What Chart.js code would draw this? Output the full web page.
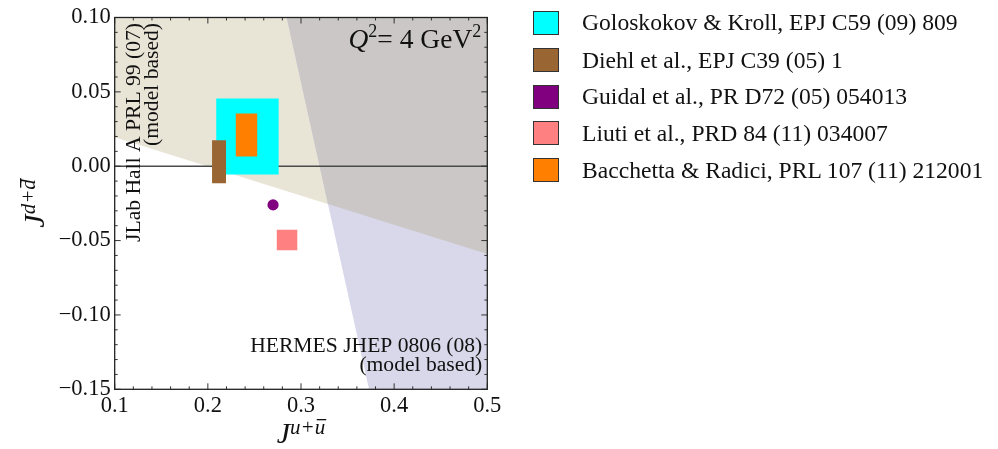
<!DOCTYPE html>
<html>
<head>
<meta charset="utf-8">
<script src="https://cdn.jsdelivr.net/npm/chart.js@4.4.0/dist/chart.umd.min.js"></script>
<style>
  body { margin: 0; background: #fff; }
  #wrap { position: relative; width: 998px; height: 449px; }
  #legend { position: absolute; left: 533px; top: 0; font-family: 'Liberation Serif', 'Times New Roman', serif; font-size: 23.6px; color: #111; }
  .row { position: absolute; left: 0; display: flex; align-items: center; white-space: nowrap; height: 24px; }
  .sw { width: 24px; height: 22px; border: 1px solid #333; margin-right: 23px; flex: none; }
</style>
</head>
<body>
<div id="wrap"><canvas id="c"></canvas><div id="legend"></div></div>
<script>
const xMin = 0.1, xMax = 0.5, yMin = -0.15, yMax = 0.10;

// model estimates of J^{u+ubar} / J^{d+dbar} (Guidal et al. is a single point)
const models = [
  'Goloskokov & Kroll, EPJ C59 (09) 809',
  'Diehl et al., EPJ C39 (05) 1',
  'Guidal et al., PR D72 (05) 054013',
  'Liuti et al., PRD 84 (11) 034007',
  'Bacchetta & Radici, PRL 107 (11) 212001'
];
const modelColors = ['#00ffff', '#996633', '#800080', '#ff8080', '#ff8000'];
const juLow  = [0.209, 0.2045, 0.270, 0.274, 0.230];
const juHigh = [0.276, 0.2195, 0.270, 0.296, 0.253];
const jdLow  = [-0.0055, -0.0115, -0.026, -0.0565, 0.0065];
const jdHigh = [0.0455, 0.0175, -0.026, -0.0427, 0.0355];
const drawOrder = [5, 4, 1, 3, 2];

// experimental constraint edges
const jlabEdgeX = [0.1, 0.5];
const jlabEdgeY = [0.0195, -0.059];
const hermesEdgeX = [0.2846, 0.373];
const hermesEdgeY = [0.10, -0.15];

const bandColors = { jlab: '#e8e4d6', hermes: '#d9d8ea', both: '#cbc7c6' };

function jlabAt(x) {
  const t = (x - jlabEdgeX[0]) / (jlabEdgeX[1] - jlabEdgeX[0]);
  return jlabEdgeY[0] + t * (jlabEdgeY[1] - jlabEdgeY[0]);
}
function crossing() {
  // where the HERMES edge meets the JLab edge
  const dx = hermesEdgeX[1] - hermesEdgeX[0], dy = hermesEdgeY[1] - hermesEdgeY[0];
  let lo = 0, hi = 1;
  for (let i = 0; i < 60; i++) {
    const m = (lo + hi) / 2;
    const px = hermesEdgeX[0] + m * dx, py = hermesEdgeY[0] + m * dy;
    if (py > jlabAt(px)) lo = m; else hi = m;
  }
  return { x: hermesEdgeX[0] + lo * dx, y: hermesEdgeY[0] + lo * dy };
}

const jlabPoly = [
  { x: jlabEdgeX[0], y: jlabEdgeY[0] }, { x: jlabEdgeX[1], y: jlabEdgeY[1] },
  { x: xMax, y: yMax }, { x: xMin, y: yMax }
];
const hermesPoly = [
  { x: hermesEdgeX[0], y: hermesEdgeY[0] }, { x: hermesEdgeX[1], y: hermesEdgeY[1] },
  { x: xMax, y: yMin }, { x: xMax, y: yMax }
];
const bothPoly = [
  { x: hermesEdgeX[0], y: hermesEdgeY[0] }, crossing(),
  { x: xMax, y: jlabAt(xMax) }, { x: xMax, y: yMax }
];

function shape(pts, color, order) {
  return { type: 'line', data: pts, backgroundColor: color, borderColor: 'rgba(0,0,0,0)',
    borderWidth: 0, fill: 'shape', pointRadius: 0, tension: 0, order: order };
}

const datasets = [
  shape(jlabPoly, bandColors.jlab, 20),
  shape(hermesPoly, bandColors.hermes, 19),
  shape(bothPoly, bandColors.both, 18),
  { type: 'line', data: [{ x: xMin, y: 0 }, { x: xMax, y: 0 }], borderColor: '#4a4a4a',
    borderWidth: 1.5, pointRadius: 0, fill: false, order: 10 }
];
models.forEach((name, i) => {
  if (juLow[i] === juHigh[i]) {
    datasets.push({ type: 'line', label: name, data: [{ x: juLow[i], y: jdLow[i] }], showLine: false,
      pointRadius: 5.6, pointBackgroundColor: modelColors[i], pointBorderWidth: 0, order: drawOrder[i] });
  } else {
    datasets.push(shape([
      { x: juLow[i], y: jdLow[i] }, { x: juHigh[i], y: jdLow[i] },
      { x: juHigh[i], y: jdHigh[i] }, { x: juLow[i], y: jdHigh[i] }
    ], modelColors[i], drawOrder[i]));
  }
});

const serif = "'Liberation Serif', 'Times New Roman', serif";

function pieces(ctx, x, y, parts) {
  // parts: [text, font, dy, overline]
  let cx = x;
  parts.forEach(p => {
    ctx.font = p[1];
    ctx.fillText(p[0], cx, y + (p[2] || 0));
    const w = ctx.measureText(p[0]).width;
    if (p[3]) {
      ctx.fillRect(cx + 2, y + (p[2] || 0) - 15, w - 1, 1.3);
    }
    cx += w;
  });
  return cx - x;
}
function piecesWidth(ctx, parts) {
  let w = 0;
  parts.forEach(p => { ctx.font = p[1]; w += ctx.measureText(p[0]).width; });
  return w;
}

const decorations = {
  id: 'decorations',
  afterDatasetsDraw(chart) {
    const { ctx, chartArea: a, scales: { x, y } } = chart;
    ctx.save();
    ctx.strokeStyle = '#333';
    ctx.lineWidth = 1;
    ctx.beginPath();
    for (let i = 0; i <= 20; i++) {
      const px = x.getPixelForValue(xMin + i * 0.02);
      const len = i % 5 === 0 ? 6 : 3;
      ctx.moveTo(px, a.bottom); ctx.lineTo(px, a.bottom - len);
      ctx.moveTo(px, a.top); ctx.lineTo(px, a.top + len);
    }
    for (let i = 0; i <= 25; i++) {
      const py = y.getPixelForValue(yMin + i * 0.01);
      const len = i % 5 === 0 ? 6 : 3;
      ctx.moveTo(a.left, py); ctx.lineTo(a.left + len, py);
      ctx.moveTo(a.right, py); ctx.lineTo(a.right - len, py);
    }
    ctx.stroke();
    ctx.strokeStyle = '#222';
    ctx.lineWidth = 1.3;
    ctx.strokeRect(a.left, a.top, a.width, a.height);

    ctx.fillStyle = '#111';
    ctx.textBaseline = 'alphabetic';

    // Q^2 label
    const q = [['Q', 'italic 27.5px ' + serif], ['2', '18px ' + serif, -11], ['= 4 GeV', '27.5px ' + serif], ['2', '18px ' + serif, -11]];
    ctx.textAlign = 'left';
    pieces(ctx, a.right - 6 - piecesWidth(ctx, q), 48, q);

    // HERMES label
    ctx.font = '21.6px ' + serif;
    ctx.textAlign = 'right';
    ctx.fillText('HERMES JHEP 0806 (08)', a.right - 5, 352);
    ctx.fillText('(model based)', a.right - 5, 371);

    // JLab label
    ctx.save();
    ctx.translate(a.left + 25, 23);
    ctx.rotate(-Math.PI / 2);
    ctx.textAlign = 'right';
    ctx.fillText('JLab Hall A PRL 99 (07)', 0, 0);
    ctx.fillText('(model based)', 0, 18);
    ctx.restore();

    // axis titles
    ctx.textAlign = 'left';
    const xt = [['J', 'italic 30px ' + serif], ['u+', 'italic 21px ' + serif, -9], ['u', 'italic 21px ' + serif, -9, true]];
    pieces(ctx, (a.left + a.right) / 2 - piecesWidth(ctx, xt) / 2, 443, xt);
    const yt = [['J', 'italic 30px ' + serif], ['d+', 'italic 21px ' + serif, -9], ['d', 'italic 21px ' + serif, -9, true]];
    ctx.save();
    ctx.translate(44, (a.top + a.bottom) / 2 + piecesWidth(ctx, yt) / 2);
    ctx.rotate(-Math.PI / 2);
    pieces(ctx, 0, 0, yt);
    ctx.restore();
    ctx.restore();
  }
};

new Chart(document.getElementById('c'), {
  type: 'line',
  data: { datasets: datasets },
  options: {
    responsive: true,
    maintainAspectRatio: false,
    animation: false,
    events: [],
    layout: { padding: { top: 16, right: 998 - 487.3, left: 0, bottom: 0 } },
    plugins: { legend: { display: false }, tooltip: { enabled: false } },
    scales: {
      x: {
        type: 'linear', min: xMin, max: xMax,
        grid: { display: false, drawTicks: false }, border: { display: false },
        ticks: { stepSize: 0.1, padding: 3, color: '#111', font: { family: serif, size: 22.5 },
          callback: v => v.toFixed(1) },
        afterFit: s => { s.height = 449 - 389.3; }
      },
      y: {
        type: 'linear', min: yMin, max: yMax,
        grid: { display: false, drawTicks: false }, border: { display: false },
        ticks: { stepSize: 0.05, padding: 4, color: '#111', font: { family: serif, size: 22.5 },
          callback: v => (v < -1e-9 ? '\u2212' : '') + Math.abs(v).toFixed(2) },
        afterFit: s => { s.width = 114.7; }
      }
    }
  },
  plugins: [decorations]
});

// legend
const legend = document.getElementById('legend');
const rowCenters = [22.7, 60, 96.7, 133.3, 170];
models.forEach((name, i) => {
  const row = document.createElement('div');
  row.className = 'row';
  row.style.top = (rowCenters[i] - 12) + 'px';
  const sw = document.createElement('div');
  sw.className = 'sw';
  sw.style.background = modelColors[i];
  const t = document.createElement('span');
  t.textContent = name;
  row.appendChild(sw);
  row.appendChild(t);
  legend.appendChild(row);
});
</script>
</body>
</html>
